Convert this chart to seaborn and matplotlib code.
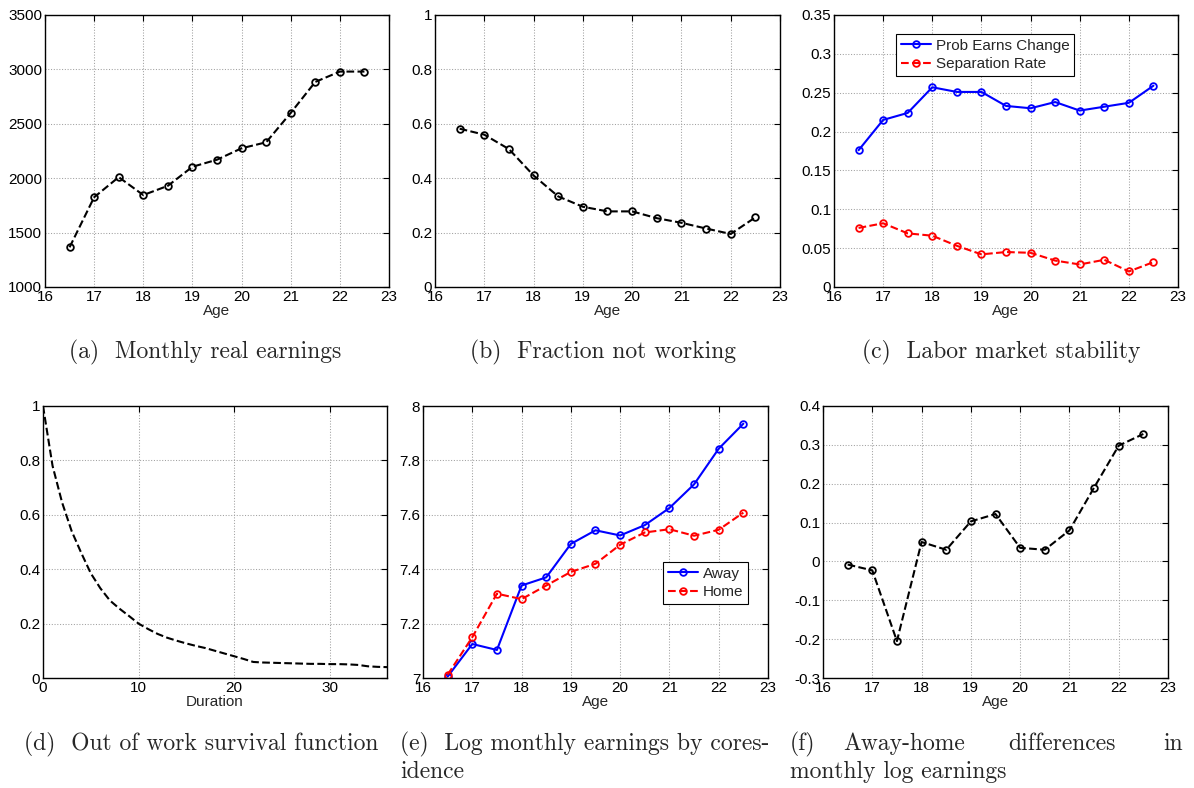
import matplotlib
matplotlib.use('Agg')
import matplotlib.pyplot as plt
import seaborn as sns
from matplotlib.ticker import FuncFormatter, MultipleLocator

# ---- data ----
ages = [16.5, 17, 17.5, 18, 18.5, 19, 19.5, 20, 20.5, 21, 21.5, 22, 22.5]

real_earnings = [1365, 1825, 2010, 1845, 1930, 2105, 2170, 2275, 2330, 2600, 2885, 2980, 2980]
frac_not_working = [0.582, 0.560, 0.507, 0.410, 0.333, 0.295, 0.278, 0.278, 0.253, 0.236, 0.215, 0.195, 0.256]

prob_earns_change = [0.176, 0.215, 0.224, 0.257, 0.251, 0.251, 0.233, 0.230, 0.238, 0.227, 0.232, 0.237, 0.259]
separation_rate = [0.076, 0.082, 0.069, 0.066, 0.053, 0.042, 0.045, 0.044, 0.034, 0.029, 0.035, 0.020, 0.032]

duration = list(range(0, 37))
survival = [1.0, 0.78, 0.645, 0.54, 0.46, 0.385, 0.33, 0.285, 0.255, 0.228, 0.20, 0.18, 0.162,
            0.148, 0.137, 0.127, 0.118, 0.11, 0.10, 0.09, 0.08, 0.07, 0.059, 0.057, 0.056,
            0.055, 0.054, 0.053, 0.052, 0.052, 0.051, 0.051, 0.05, 0.048, 0.043, 0.041, 0.04]

log_away = [7.005, 7.125, 7.103, 7.340, 7.370, 7.493, 7.543, 7.524, 7.562, 7.625, 7.712, 7.843, 7.935]
log_home = [7.012, 7.150, 7.310, 7.290, 7.340, 7.390, 7.420, 7.490, 7.535, 7.547, 7.523, 7.545, 7.608]

away_home_diff = [-0.008, -0.023, -0.205, 0.050, 0.030, 0.103, 0.122, 0.035, 0.030, 0.080, 0.190, 0.298, 0.328]

sns.set_style('white')
plt.rcParams['font.family'] = ['Liberation Sans', 'DejaVu Sans']
plt.rcParams['font.size'] = 11

W, H = 1194, 788
fig = plt.figure(figsize=(W / 100, H / 100), dpi=100)


def make_axes(left, top, right, bottom):
    return fig.add_axes([left / W, 1 - bottom / H, (right - left) / W, (bottom - top) / H])


def style_axes(ax, xlim, ylim, ystep, xstep=1, xlabel='Age'):
    ax.set_xlim(*xlim)
    ax.set_ylim(*ylim)
    ax.xaxis.set_major_locator(MultipleLocator(xstep))
    ax.yaxis.set_major_locator(MultipleLocator(ystep))
    fmt = FuncFormatter(lambda v, p: '%g' % round(v, 6))
    ax.xaxis.set_major_formatter(fmt)
    ax.yaxis.set_major_formatter(fmt)
    ax.grid(True, color='#a0a0a0', linestyle=':', linewidth=0.75)
    ax.tick_params(direction='in', top=True, right=True, length=4, width=0.8,
                   labelsize=11, pad=2, colors='black')
    for s in ax.spines.values():
        s.set_color('black')
        s.set_linewidth(1.0)
    ax.set_xlabel(xlabel, fontsize=11, labelpad=0)
    ax.set_ylabel('')


line_kw = dict(linewidth=1.5, markersize=4.8, markeredgewidth=1.3, markerfacecolor='none')

# (a) monthly real earnings
ax = make_axes(45, 15, 389, 287)
sns.lineplot(x=ages, y=real_earnings, ax=ax, color='black', linestyle='--', marker='o',
             markeredgecolor='black', **line_kw)
style_axes(ax, (16, 23), (1000, 3500), 500)

# (b) fraction not working
ax = make_axes(435, 15, 780, 287)
sns.lineplot(x=ages, y=frac_not_working, ax=ax, color='black', linestyle='--', marker='o',
             markeredgecolor='black', **line_kw)
style_axes(ax, (16, 23), (0, 1), 0.2)

# (c) labor market stability
ax = make_axes(834, 15, 1178, 287)
sns.lineplot(x=ages, y=prob_earns_change, ax=ax, color='blue', linestyle='-', marker='o',
             markeredgecolor='blue', label='Prob Earns Change', **line_kw)
sns.lineplot(x=ages, y=separation_rate, ax=ax, color='red', linestyle='--', marker='o',
             markeredgecolor='red', label='Separation Rate', **line_kw)
style_axes(ax, (16, 23), (0, 0.35), 0.05)
ax.legend(loc='upper left', bbox_to_anchor=(0.18, 0.93), borderaxespad=0, fancybox=False,
          edgecolor='black', framealpha=1, fontsize=11, handlelength=2.0, handletextpad=0.3,
          borderpad=0.3, labelspacing=0.3).get_frame().set_linewidth(0.8)

# (d) out of work survival function
ax = make_axes(43, 406, 387, 678)
sns.lineplot(x=duration, y=survival, ax=ax, color='black', linestyle='--', linewidth=1.5)
style_axes(ax, (0, 36), (0, 1), 0.2, xstep=10, xlabel='Duration')

# (e) log monthly earnings by coresidence
ax = make_axes(423, 406, 768, 678)
sns.lineplot(x=ages, y=log_away, ax=ax, color='blue', linestyle='-', marker='o',
             markeredgecolor='blue', label='Away', **line_kw)
sns.lineplot(x=ages, y=log_home, ax=ax, color='red', linestyle='--', marker='o',
             markeredgecolor='red', label='Home', **line_kw)
style_axes(ax, (16, 23), (7, 8), 0.2)
ax.legend(loc='upper left', bbox_to_anchor=(0.696, 0.426), borderaxespad=0, fancybox=False,
          edgecolor='black', framealpha=1, fontsize=11, handlelength=2.0, handletextpad=0.3,
          borderpad=0.3, labelspacing=0.3).get_frame().set_linewidth(0.8)

# (f) away-home differences
ax = make_axes(823, 406, 1168, 678)
sns.lineplot(x=ages, y=away_home_diff, ax=ax, color='black', linestyle='--', marker='o',
             markeredgecolor='black', **line_kw)
style_axes(ax, (16, 23), (-0.3, 0.4), 0.1)

# ---- captions ----
cap = dict(fontfamily='cmr10', fontsize=17, va='center')


def caption(x, y, s, ha='left'):
    fig.text(x / W, 1 - y / H, s, ha=ha, **cap)


caption(205, 352, '(a)  Monthly real earnings', ha='center')
caption(603, 352, '(b)  Fraction not working', ha='center')
caption(1001, 352, '(c)  Labor market stability', ha='center')

caption(24, 744, '(d)  Out of work survival function')
caption(400, 744, '(e)  Log monthly earnings by cores-')
caption(400, 772, 'idence')
caption(790, 744, '(f)')
caption(843, 744, 'Away-home')
caption(1008, 744, 'differences')
caption(1183, 744, 'in', ha='right')
caption(790, 772, 'monthly log earnings')

fig.savefig('out.png', dpi=100)
